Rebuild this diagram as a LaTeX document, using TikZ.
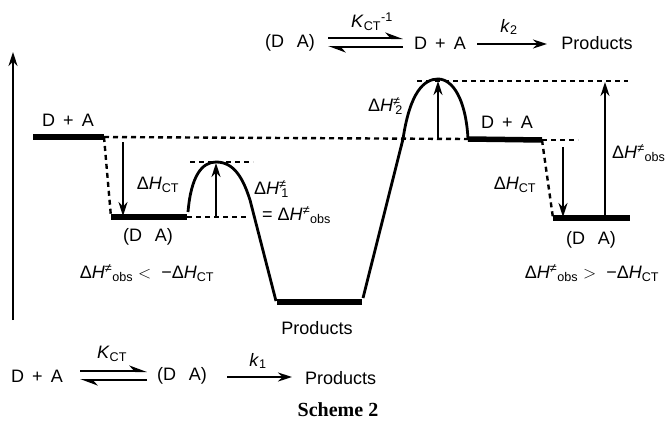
\documentclass[tikz,border=0pt]{standalone}
\usepackage{fontspec}
\setmainfont{Liberation Sans}
\newfontfamily\schemefont{Liberation Serif}
\usetikzlibrary{arrows.meta}
\newcommand{\dHobs}{Δ\textit{H}\textsuperscript{≠}\textsubscript{obs}}
\newcommand{\dHct}{Δ\textit{H}\textsubscript{CT}}
\newcommand{\dHn}[1]{Δ\textit{H}\rlap{\textsuperscript{≠}}\textsubscript{\,#1}}
\newcommand{\DpA}{D\hspace{0.45em}+\hspace{0.45em}A}
\newcommand{\DA}{(D\hspace{0.7em}A)}
\begin{document}
\begin{tikzpicture}[x=1pt,y=-1pt,
  level/.style={line width=5.5pt},
  dashln/.style={line width=2.4pt,dash pattern=on 5pt off 4pt},
  curve/.style={line width=2.8pt},
  arr/.style={line width=2pt,-{Stealth[length=14pt,width=9pt]}},
  harp/.style={line width=2pt,-{Stealth[harpoon,length=15pt,width=11pt]}},
  lbl/.style={font=\fontsize{18}{21}\selectfont,inner sep=0pt}]
\useasboundingbox (0,0) rectangle (671,423);

% energy axis
\coordinate (ax0) at (13,320);
\coordinate (ax1) at (13,52);
\draw[arr] (ax0) -- (ax1);

% left: D + A level and (D A) level
\coordinate (LA1) at (33,137);
\coordinate (LA2) at (104,137);
\coordinate (LC1) at (111,217);
\coordinate (LC2) at (187,217);
\draw[level] (LA1) -- (LA2);
\draw[dashln] (LA2) -- (LC1);
\draw[level] (LC1) -- (LC2);
\coordinate (RA1) at (468,139);
\draw[dashln] (LA2) -- (RA1);

\coordinate (h1a) at (123,142);
\coordinate (h1b) at (123,216);
\draw[arr] (h1a) -- (h1b);

% barrier 1
\coordinate (B1s) at (188,212);
\coordinate (B1p) at (216,162);
\coordinate (B1m) at (250,200);
\coordinate (P1) at (276,301);
\draw[curve] (B1s) .. controls (191,176) and (202,162) .. (B1p)
  .. controls (234,162) and (243,178) .. (B1m) -- (P1);
\coordinate (T1a) at (190,162);
\coordinate (T1b) at (253,162);
\draw[dashln] (T1a) -- (T1b);
\coordinate (D1a) at (187,217);
\coordinate (D1b) at (246,217);
\draw[dashln] (D1a) -- (D1b);
\coordinate (u1a) at (216,216);
\coordinate (u1b) at (216,163);
\draw[arr] (u1a) -- (u1b);

% products level
\coordinate (PL1) at (277,302);
\coordinate (PL2) at (362,302);
\draw[level] (PL1) -- (PL2);

% rising line and barrier 2
\coordinate (R0) at (363,298);
\coordinate (B2s) at (403,139);
\coordinate (B2p) at (438,79);
\coordinate (B2e) at (468,139);
\draw[curve] (R0) -- (B2s) .. controls (410,92) and (424,79) .. (B2p)
  .. controls (453,79) and (466,100) .. (B2e);
\coordinate (T2a) at (417,81);
\coordinate (T2b) at (628,81);
\draw[dashln] (T2a) -- (T2b);
\coordinate (u2a) at (438,138);
\coordinate (u2b) at (438,81);
\draw[arr] (u2a) -- (u2b);

% right: D + A level and (D A) level
\coordinate (RA2) at (542,140);
\coordinate (RA3) at (578,140);
\coordinate (RC1) at (553,218);
\coordinate (RC2) at (630,218);
\draw[level] (RA1) -- (RA2);
\draw[dashln] (RA2) -- (RA3);
\draw[dashln] (RA2) -- (RC1);
\draw[level] (RC1) -- (RC2);
\coordinate (h2a) at (563,147);
\coordinate (h2b) at (563,217);
\draw[arr] (h2a) -- (h2b);
\coordinate (u3a) at (605,216);
\coordinate (u3b) at (605,82);
\draw[arr] (u3a) -- (u3b);

% labels in the diagram
\node[lbl] (tLDA) at (68,120) {\DpA};
\node[lbl] (tLH) at (158,185) {\dHct};
\node[lbl] (tLC) at (148,237) {\DA};
\node[lbl] (tLcond) at (147,273) {\dHobs\ $<$\ \ −\dHct};
\node[lbl,anchor=west] (tH1) at (254,189) {\dHn{1}};
\node[lbl,anchor=west] (tH1b) at (262,215) {= \dHobs};
\node[lbl] (tP) at (317,328) {Products};
\node[lbl,anchor=east] (tH2) at (403,106) {\dHn{2}};
\node[lbl] (tRDA) at (507,122) {\DpA};
\node[lbl] (tRH) at (515,185) {\dHct};
\node[lbl,anchor=west] (tRobs) at (612,153) {\dHobs};
\node[lbl] (tRC) at (591,240) {\DA};
\node[lbl] (tRcond) at (592,273) {\dHobs\ $>$\ \ −\dHct};

% top equation
\node[lbl] (e1a) at (290,43) {\DA};
\node[lbl] (e1b) at (440,43) {\DpA};
\node[lbl] (e1c) at (597,43) {Products};
\coordinate (q1a) at (328,38);
\coordinate (q1b) at (403,38);
\coordinate (q1c) at (403,47);
\coordinate (q1d) at (328,47);
\draw[harp] (q1a) -- (q1b);
\draw[harp] (q1c) -- (q1d);
\node[lbl] (K1) at (372,22) {\textit{K}\textsubscript{CT}\textsuperscript{-1}};
\coordinate (r1a) at (477,44);
\coordinate (r1b) at (547,44);
\draw[arr] (r1a) -- (r1b);
\node[lbl] (k2) at (509,27) {\textit{k}\textsubscript{2}};

% bottom equation
\node[lbl] (e2a) at (37,376) {\DpA};
\node[lbl] (e2b) at (182,376) {\DA};
\node[lbl,anchor=west] (e2c) at (305,378) {Products};
\coordinate (q2a) at (80,371);
\coordinate (q2b) at (147,371);
\coordinate (q2c) at (147,380);
\coordinate (q2d) at (80,380);
\draw[harp] (q2a) -- (q2b);
\draw[harp] (q2c) -- (q2d);
\node[lbl] (K2) at (112,354) {\textit{K}\textsubscript{CT}};
\coordinate (r2a) at (227,377);
\coordinate (r2b) at (292,377);
\draw[arr] (r2a) -- (r2b);
\node[lbl] (k1) at (258,361) {\textit{k}\textsubscript{1}};

\node[font=\schemefont\bfseries\fontsize{20}{24}\selectfont,inner sep=0pt] (cap) at (338,410) {Scheme 2};
\end{tikzpicture}
\end{document}
